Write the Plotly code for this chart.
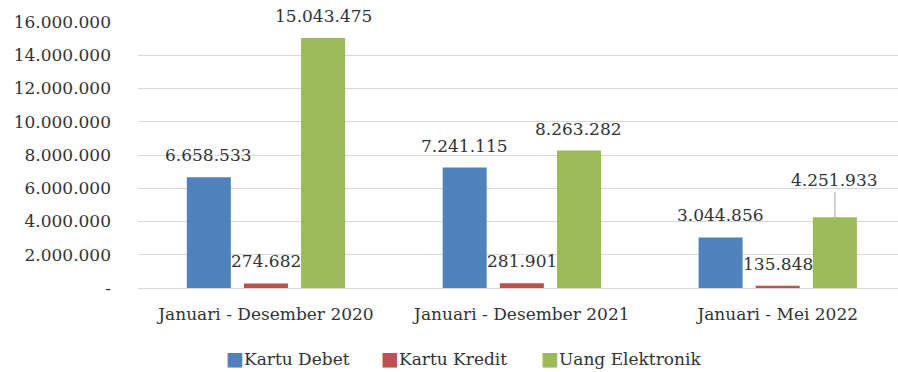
import plotly.graph_objects as go

# Periods (x categories)
categories = ["Januari - Desember 2020", "Januari - Desember 2021", "Januari - Mei 2022"]

# Transaction volumes per instrument
kartu_debet = [6658533, 7241115, 3044856]
kartu_kredit = [274682, 281901, 135848]
uang_elektronik = [15043475, 8263282, 4251933]

series_names = ["Kartu Debet", "Kartu Kredit", "Uang Elektronik"]
series_colors = ["#4F81BD", "#C0504D", "#9BBB59"]

# Y-axis ticks
y_tickvals = [0, 2000000, 4000000, 6000000, 8000000, 10000000, 12000000, 14000000, 16000000]
y_ticktext = ["-", "2.000.000", "4.000.000", "6.000.000", "8.000.000",
              "10.000.000", "12.000.000", "14.000.000", "16.000.000"]

FONT = "DejaVu Serif"
TEXT_COLOR = "#333333"
BARGAP = 0.33
BARGROUPGAP = 0.23

PLOT_LEFT, PLOT_RIGHT, PLOT_TOP, PLOT_BOTTOM = 138, 898, 22, 288


def fmt(v):
    return f"{v:,}".replace(",", ".")


fig = go.Figure()
all_series = [kartu_debet, kartu_kredit, uang_elektronik]
for name, color, vals in zip(series_names, series_colors, all_series):
    fig.add_trace(go.Bar(
        name=name, x=categories, y=vals,
        marker=dict(color=color, line=dict(width=0)),
        showlegend=False,
    ))

# Value labels above each bar, positioned at the bar's slot within the group
slot = (1 - BARGAP) / len(all_series)
for si, vals in enumerate(all_series):
    offset = (si - (len(all_series) - 1) / 2) * slot
    for ci, v in enumerate(vals):
        x = ci + offset
        if series_names[si] == "Uang Elektronik" and ci == 2:
            # label lifted with a leader line
            fig.add_annotation(
                x=x, y=v, xref="x", yref="y", text=fmt(v),
                showarrow=True, arrowhead=0, arrowwidth=1, arrowcolor="#A6A6A6",
                ax=0, ay=-37, standoff=0,
                font=dict(family=FONT, size=17, color=TEXT_COLOR),
            )
        else:
            fig.add_annotation(
                x=x, y=v, xref="x", yref="y", text=fmt(v),
                showarrow=False, yanchor="bottom", yshift=10,
                font=dict(family=FONT, size=17, color=TEXT_COLOR),
            )

# Legend row below the axis: colored square followed by the series name
plot_w = PLOT_RIGHT - PLOT_LEFT
plot_h = PLOT_BOTTOM - PLOT_TOP
legend_px = [224, 379, 539]
legend_y = (PLOT_BOTTOM - 358) / plot_h
for name, color, px in zip(series_names, series_colors, legend_px):
    fig.add_annotation(
        x=(px - PLOT_LEFT) / plot_w, y=legend_y, xref="paper", yref="paper",
        xanchor="left", yanchor="middle", showarrow=False,
        text=f'<span style="color:{color};font-family:DejaVu Sans;font-size:19px">■</span>{name}',
        font=dict(family=FONT, size=17, color=TEXT_COLOR),
    )

fig.update_layout(
    width=898, height=372,
    margin=dict(l=PLOT_LEFT, r=898 - PLOT_RIGHT, t=PLOT_TOP, b=372 - PLOT_BOTTOM),
    paper_bgcolor="white", plot_bgcolor="white",
    barmode="group", bargap=BARGAP, bargroupgap=BARGROUPGAP,
    font=dict(family=FONT, size=17, color=TEXT_COLOR),
    showlegend=False,
)

fig.update_xaxes(
    type="category", range=[-0.5, 2.47],
    showgrid=False, showline=False, ticks="",
    ticklabelstandoff=14,
    tickfont=dict(family=FONT, size=17, color=TEXT_COLOR),
)
fig.update_yaxes(
    range=[0, 16000000],
    tickvals=y_tickvals, ticktext=y_ticktext,
    showgrid=True, gridcolor="#D9D9D9", gridwidth=1,
    zeroline=True, zerolinecolor="#D9D9D9", zerolinewidth=1,
    showline=False, ticks="",
    ticklabelstandoff=26,
    tickfont=dict(family=FONT, size=17, color=TEXT_COLOR),
)

fig.write_html("out.html")
